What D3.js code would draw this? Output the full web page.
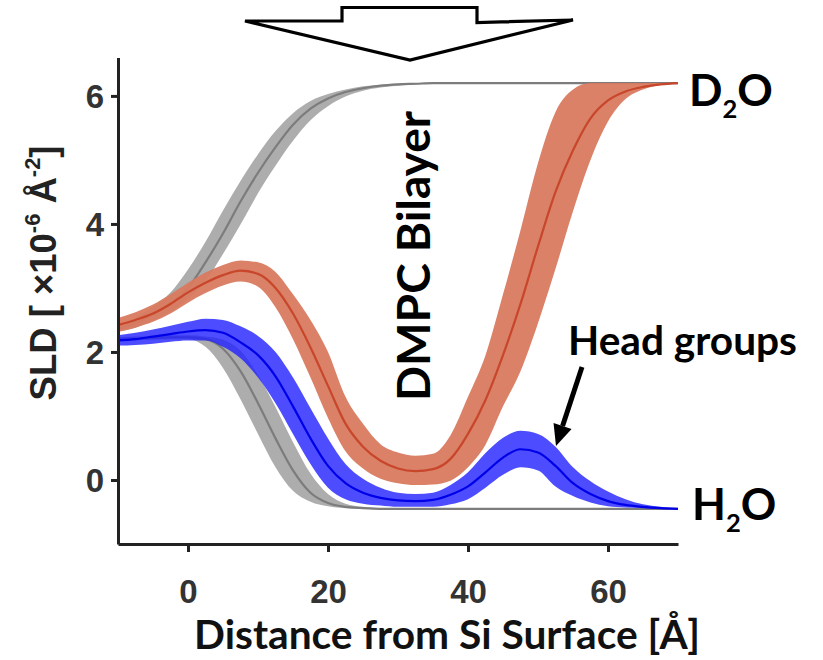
<!DOCTYPE html>
<html><head><meta charset="utf-8">
<script src="https://cdn.jsdelivr.net/npm/d3@7"></script>
<style>body{margin:0;background:#fff}</style>
</head><body>
<svg id="chart" width="823" height="660"></svg>
<script>
// ---------- DATA ----------
const distance = [-10,-7.5,-5,-2.5,0,2.5,5,7.5,10,12.5,15,17.5,20,22.5,25,27.5,30,32.5,35,37.5,40,42.5,45,47.5,50,52.5,55,57.5,60,62.5,65,67.5,70];

// substrate only, D2O (grey)
const subD2O_mid = [2.36,2.45,2.58,2.76,3.0,3.4,3.85,4.35,4.8,5.2,5.55,5.8,5.96,6.06,6.12,6.16,6.18,6.19,6.2,6.2,6.2,6.2,6.2,6.2,6.2,6.2,6.2,6.2,6.2,6.2,6.2,6.2,6.2];
const subD2O_lo  = [2.32,2.38,2.49,2.63,2.83,3.11,3.53,3.99,4.48,4.91,5.3,5.62,5.84,5.99,6.08,6.13,6.16,6.18,6.19,6.2,6.2,6.2,6.2,6.2,6.2,6.2,6.2,6.2,6.2,6.2,6.2,6.2,6.2];
const subD2O_hi  = [2.42,2.54,2.71,2.93,3.29,3.72,4.21,4.67,5.09,5.45,5.73,5.92,6.03,6.1,6.15,6.17,6.19,6.2,6.2,6.2,6.2,6.2,6.2,6.2,6.2,6.2,6.2,6.2,6.2,6.2,6.2,6.2,6.2];

// substrate only, H2O (grey)
const subH2O_mid = [2.2,2.21,2.22,2.23,2.23,2.2,2.05,1.7,1.2,0.65,0.15,-0.2,-0.36,-0.42,-0.44,-0.45,-0.45,-0.45,-0.45,-0.45,-0.45,-0.45,-0.45,-0.45,-0.45,-0.45,-0.45,-0.45,-0.45,-0.45,-0.45,-0.45,-0.45];
const subH2O_lo  = [2.17,2.18,2.19,2.2,2.2,2.08,1.75,1.26,0.72,0.2,-0.17,-0.34,-0.41,-0.44,-0.45,-0.45,-0.45,-0.45,-0.45,-0.45,-0.45,-0.45,-0.45,-0.45,-0.45,-0.45,-0.45,-0.45,-0.45,-0.45,-0.45,-0.45,-0.45];
const subH2O_hi  = [2.23,2.24,2.25,2.26,2.26,2.24,2.19,2.02,1.64,1.14,0.59,0.1,-0.22,-0.37,-0.42,-0.44,-0.45,-0.45,-0.45,-0.45,-0.45,-0.45,-0.45,-0.45,-0.45,-0.45,-0.45,-0.45,-0.45,-0.45,-0.45,-0.45,-0.45];

// DMPC bilayer, D2O (red)
const bilD2O_mid = [2.42,2.5,2.6,2.75,2.93,3.08,3.2,3.27,3.22,3.0,2.6,2.07,1.47,0.88,0.52,0.3,0.18,0.14,0.17,0.33,0.72,1.25,1.95,2.75,3.65,4.5,5.15,5.65,5.93,6.07,6.14,6.18,6.2];
const bilD2O_lo  = [2.31,2.38,2.47,2.6,2.77,2.92,3.04,3.1,3.02,2.7,2.2,1.6,0.97,0.45,0.18,0.02,-0.05,-0.08,-0.07,-0.01,0.2,0.55,1.15,1.7,2.45,3.3,4.2,5.0,5.6,5.95,6.1,6.17,6.2];
const bilD2O_hi  = [2.53,2.62,2.74,2.9,3.08,3.24,3.36,3.43,3.4,3.25,2.9,2.5,2.0,1.3,0.88,0.56,0.43,0.38,0.41,0.7,1.3,1.95,2.9,3.9,4.95,5.75,6.1,6.2,6.2,6.2,6.2,6.2,6.2];

// DMPC bilayer, H2O (blue)
const bilH2O_mid = [2.18,2.2,2.24,2.28,2.32,2.34,2.3,2.15,1.95,1.62,1.15,0.65,0.22,-0.05,-0.2,-0.28,-0.32,-0.33,-0.31,-0.23,-0.1,0.12,0.35,0.48,0.43,0.22,-0.05,-0.22,-0.33,-0.39,-0.42,-0.44,-0.45];
const bilH2O_lo  = [2.1,2.11,2.13,2.16,2.18,2.18,2.08,1.9,1.6,1.2,0.72,0.25,-0.12,-0.3,-0.37,-0.4,-0.42,-0.42,-0.42,-0.38,-0.3,-0.12,0.08,0.2,0.15,-0.1,-0.25,-0.35,-0.41,-0.43,-0.44,-0.45,-0.45];
const bilH2O_hi  = [2.26,2.3,2.35,2.41,2.47,2.52,2.5,2.4,2.25,2.0,1.6,1.12,0.65,0.25,0.02,-0.12,-0.2,-0.22,-0.2,-0.08,0.12,0.42,0.66,0.77,0.72,0.52,0.2,-0.02,-0.18,-0.3,-0.38,-0.42,-0.45];

const xTicks = [0,20,40,60];
const yTicks = [0,2,4,6];

// ---------- CHART ----------
const svg = d3.select("#chart");
const x = d3.scaleLinear().domain([-10,70]).range([118,678]);
const y = d3.scaleLinear().domain([-1,6.6]).range([544,57.5]);

const series = [
  {mid: subD2O_mid, lo: subD2O_lo, hi: subD2O_hi, band: "#adadad", line: "#7c7c7c", op: 1},
  {mid: subH2O_mid, lo: subH2O_lo, hi: subH2O_hi, band: "#adadad", line: "#7c7c7c", op: 1},
  {mid: bilD2O_mid, lo: bilD2O_lo, hi: bilD2O_hi, band: "#d87a60", line: "#c8462a", op: 0.95},
  {mid: bilH2O_mid, lo: bilH2O_lo, hi: bilH2O_hi, band: "#2020ff", line: "#0000e8", op: 0.8}
];

const area = d3.area().curve(d3.curveMonotoneX)
  .x((d,i) => x(distance[i])).y0(d => y(d[0])).y1(d => y(d[1]));
const line = d3.line().curve(d3.curveMonotoneX)
  .x((d,i) => x(distance[i])).y(d => y(d));

const g = svg.append("g");
series.forEach(s => {
  g.append("path").datum(s.lo.map((v,i) => [v, s.hi[i]]))
    .attr("d", area).attr("fill", s.band).attr("fill-opacity", s.op);
  g.append("path").datum(s.mid).attr("d", line)
    .attr("fill", "none").attr("stroke", s.line).attr("stroke-width", 2.2);
});

// axes
const xAxis = svg.append("g").attr("transform", "translate(0,544)")
  .call(d3.axisBottom(x).tickValues(xTicks).tickSize(8).tickSizeOuter(0).tickPadding(28));
const yAxis = svg.append("g").attr("transform", "translate(118,0)")
  .call(d3.axisLeft(y).tickValues(yTicks).tickSize(7).tickSizeOuter(0).tickPadding(7));
[xAxis, yAxis].forEach(a => {
  a.select(".domain").attr("stroke", "#222").attr("stroke-width", 3);
  a.selectAll(".tick line").attr("stroke", "#222").attr("stroke-width", 3);
  a.selectAll(".tick text").attr("font-family", "'Liberation Sans', Arial, sans-serif")
    .attr("font-weight", "bold").attr("font-size", 33).attr("fill", "#333");
});
yAxis.selectAll(".tick text").attr("dy", "0.36em");

function fit(sel, w) {
  const l = sel.node().getComputedTextLength();
  const fs = parseFloat(sel.attr("font-size"));
  sel.attr("font-size", fs * w / l);
}

// x title
const xt = svg.append("text").attr("x", 447).attr("y", 649).attr("text-anchor", "middle")
  .attr("font-family", "Lato, 'Open Sans', sans-serif").attr("font-weight", "bold")
  .attr("font-size", 36).attr("fill", "#111").text("Distance from Si Surface [Å]");
fit(xt, 506);

// y title
const yt = svg.append("text").attr("transform", "translate(56,273) rotate(-90)")
  .attr("text-anchor", "middle").attr("font-family", "'Liberation Sans', Arial, sans-serif")
  .attr("font-weight", "bold").attr("font-size", 31).attr("fill", "#222");
yt.append("tspan").text("SLD [ ×10");
yt.append("tspan").attr("font-size", "0.6em").attr("dy", "-0.75em").text("-6");
yt.append("tspan").attr("dy", "0.45em").text(" Å");
yt.append("tspan").attr("font-size", "0.6em").attr("dy", "-0.75em").text("-2");
yt.append("tspan").attr("dy", "0.45em").text("]");
fit(yt, 255);

// DMPC Bilayer
const dm = svg.append("text").attr("transform", "translate(430,256) rotate(-90)")
  .attr("text-anchor", "middle").attr("font-family", "Lato, 'Open Sans', sans-serif")
  .attr("font-weight", "bold").attr("font-size", 36).attr("fill", "#000").text("DMPC Bilayer");
fit(dm, 290);

// Head groups
const hg = svg.append("text").attr("x", 568).attr("y", 355)
  .attr("font-family", "Lato, 'Open Sans', sans-serif").attr("font-weight", "bold")
  .attr("font-size", 34).attr("fill", "#000").text("Head groups");
fit(hg, 229);

// head-group arrow
const tail = [582, 367], tip = [556, 446];
const dx = tip[0]-tail[0], dy = tip[1]-tail[1], L = Math.hypot(dx, dy);
const ux = dx/L, uy = dy/L, hl = 21, hw = 9.5;
const bx = tip[0]-ux*hl, by = tip[1]-uy*hl;
svg.append("line").attr("x1", tail[0]).attr("y1", tail[1]).attr("x2", bx).attr("y2", by)
  .attr("stroke", "#000").attr("stroke-width", 5);
svg.append("path").attr("d", `M${tip[0]},${tip[1]}L${bx-uy*hw},${by+ux*hw}L${bx+uy*hw},${by-ux*hw}Z`)
  .attr("fill", "#000");

// D2O / H2O labels
function solvent(xp, yp, a, b) {
  const t = svg.append("text").attr("x", xp).attr("y", yp)
    .attr("font-family", "Lato, 'Open Sans', sans-serif").attr("font-weight", "bold")
    .attr("font-size", 44).attr("fill", "#000");
  t.append("tspan").text(a);
  t.append("tspan").attr("font-size", "0.58em").attr("dy", 12).text("2");
  t.append("tspan").attr("dy", -12).text(b);
}
solvent(689, 106, "D", "O");
solvent(692, 520, "H", "O");

// big hollow arrow at top
svg.append("path")
  .attr("d", "M245,21 L342,21 L342,7.5 L477,7.5 L477,22.5 L573,20 L410,60 Z")
  .attr("fill", "#fff").attr("stroke", "#000").attr("stroke-width", 3.2).attr("stroke-linejoin", "miter");
</script>
</body></html>
